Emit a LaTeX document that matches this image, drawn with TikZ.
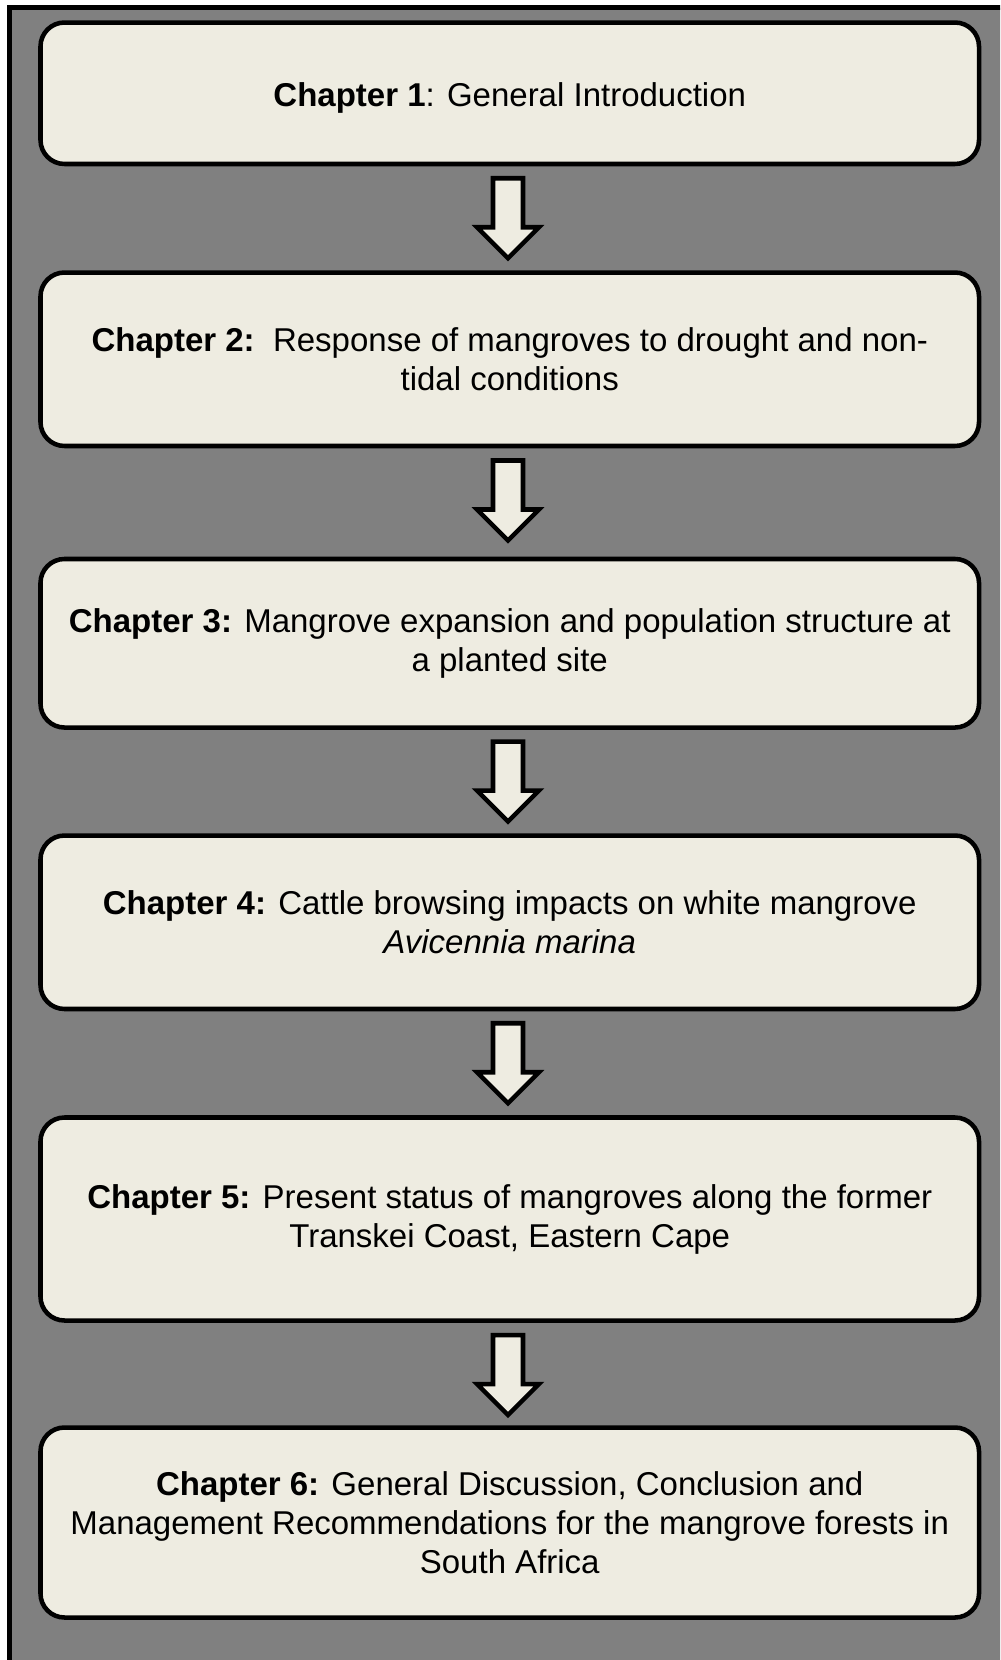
\documentclass[tikz,border=0pt]{standalone}
\usepackage{fontspec}
\setmainfont{Liberation Sans}
\usetikzlibrary{calc}
\definecolor{panelgray}{RGB}{128,128,128}
\definecolor{boxfill}{HTML}{EEECE1}
\tikzset{
  chapbox/.style={draw=black, fill=boxfill, line width=3.4pt, rounded corners=18pt,
    minimum width=703.9pt, align=center, inner sep=0pt,
    font=\fontsize{24.75pt}{29.25pt}\selectfont},
  arrowshape/.style={draw=black, fill=boxfill, line width=3.4pt, line join=miter},
  downarrow/.pic={
    \draw[arrowshape] (-15,-40) -- (15,-40) -- (15,9) -- (31,9) -- (0,40) -- (-31,9) -- (-15,9) -- cycle;
  }
}
\begin{document}
\begin{tikzpicture}[x=0.75pt,y=-0.75pt]
\useasboundingbox (0,0) rectangle (1000,1660);
\clip (0,0) rectangle (1000,1660);
\fill[white] (0,0) rectangle (1000,1660);
\draw[fill=panelgray, line width=3.75pt] (9.75,7.5) rectangle (1030,1690);

\node[chapbox, minimum height=106.1pt, text height=24.5pt, text depth=5.2pt] (b1) at (509.75,93.25)
  {\textbf{Chapter 1}: General Introduction};
\node[chapbox, minimum height=130.1pt] (b2) at (509.75,359.25)
  {\textbf{Chapter 2:}\ \ Response of mangroves to drought and non-\\tidal conditions};
\node[chapbox, minimum height=126.4pt] (b3) at (509.75,643.25)
  {\textbf{Chapter 3:} Mangrove expansion and population structure at\\a planted site};
\node[chapbox, minimum height=130.1pt] (b4) at (509.75,922.25)
  {\textbf{Chapter 4:} Cattle browsing impacts on white mangrove\\\textit{Avicennia marina}};
\node[chapbox, minimum height=152.25pt] (b5) at (509.75,1219)
  {\textbf{Chapter 5:} Present status of mangroves along the former\\Transkei Coast, Eastern Cape};
\node[chapbox, minimum height=142.5pt] (b6) at (509.75,1522.5)
  {\textbf{Chapter 6:} General Discussion, Conclusion and\\Management Recommendations for the mangrove forests in\\South Africa};

\pic at ($(b1.south)!0.5!(b2.north)+(-1.75,0)$) {downarrow};
\pic at ($(b2.south)!0.5!(b3.north)+(-1.75,-2)$) {downarrow};
\pic at ($(b3.south)!0.5!(b4.north)+(-1.75,0)$) {downarrow};
\pic at ($(b4.south)!0.5!(b5.north)+(-1.75,0)$) {downarrow};
\pic at ($(b5.south)!0.5!(b6.north)+(-1.75,1)$) {downarrow};
\end{tikzpicture}
\end{document}
